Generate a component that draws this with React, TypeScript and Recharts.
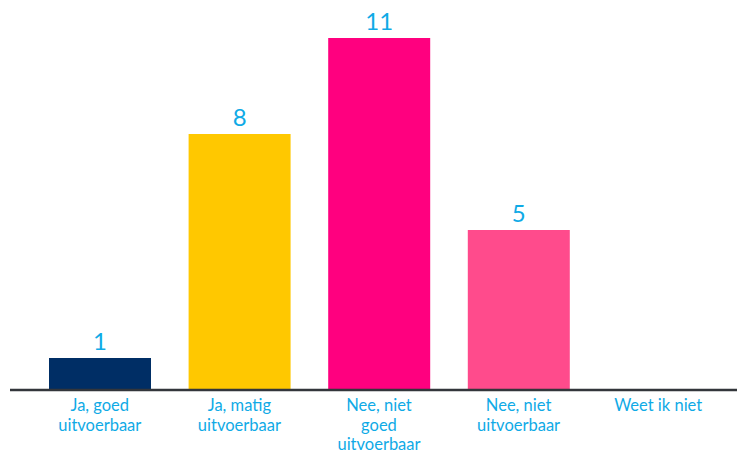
import React from 'react';
import { BarChart, Bar, XAxis, YAxis, Cell, LabelList } from 'recharts';

const categories = [
  ['Ja, goed', 'uitvoerbaar'],
  ['Ja, matig', 'uitvoerbaar'],
  ['Nee, niet', 'goed', 'uitvoerbaar'],
  ['Nee, niet', 'uitvoerbaar'],
  ['Weet ik niet'],
];
const counts = [1, 8, 11, 5, 0];
const barColors = ['#002E65', '#FFC800', '#FF007F', '#FF4B8C', '#9AA0A6'];

const LABEL_COLOR = '#0FAAE6';
const FONT = 'Lato, "Open Sans", Arial, sans-serif';

const data = categories.map((lines, i) => ({ name: lines.join('\n'), value: counts[i] }));

const CategoryTick = ({ x, y, payload }: any) => {
  const lines = String(payload.value).split('\n');
  return (
    <g>
      {lines.map((line, i) => (
        <text key={i} x={x} y={y + 13 + i * 19.5} textAnchor="middle" fill={LABEL_COLOR} fontSize={16.5} fontFamily={FONT}>
          {line}
        </text>
      ))}
    </g>
  );
};

const ValueLabel = ({ x, y, width, value }: any) => {
  if (!value) return null;
  return (
    <text x={x + width / 2} y={y - 8} textAnchor="middle" fill={LABEL_COLOR} fontSize={24} fontFamily={FONT}>
      {value}
    </text>
  );
};

export default function App() {
  return (
    <div style={{ position: 'absolute', left: 0, top: 0, width: 737, height: 453, background: '#fff' }}>
      <BarChart
        width={737}
        height={453}
        data={data}
        margin={{ top: 38, right: 0, left: 10, bottom: 0 }}
        barCategoryGap={19}
      >
        <XAxis
          dataKey="name"
          height={63}
          interval={0}
          tickLine={false}
          axisLine={{ stroke: '#33363B', strokeWidth: 2.5 }}
          padding={{ left: 20, right: 9 }}
          tick={<CategoryTick />}
        />
        <YAxis hide domain={[0, 11]} />
        <Bar dataKey="value" isAnimationActive={false}>
          {data.map((_, i) => (
            <Cell key={i} fill={barColors[i]} />
          ))}
          <LabelList dataKey="value" content={<ValueLabel />} />
        </Bar>
      </BarChart>
    </div>
  );
}
